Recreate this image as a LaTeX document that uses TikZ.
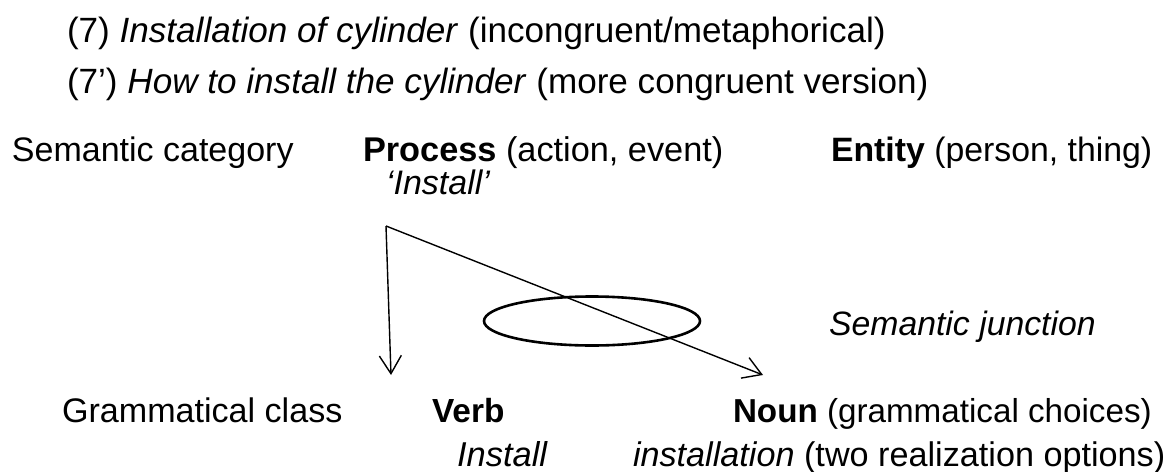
\documentclass[tikz,border=0pt]{standalone}
\usepackage{fontspec}
\setmainfont{Liberation Sans}
\usetikzlibrary{arrows.meta}

\tikzset{
  txt/.style={inner sep=0pt, outer sep=0pt, anchor=base west,
              font=\fontsize{#1}{41}\selectfont},
  txt/.default=34.3,
  conn/.style={line width=1.4pt,
               -{Straight Barb[length=18pt, width=22pt, line width=1.4pt]}},
  junction/.style={line width=2.6pt}
}

\begin{document}
\begin{tikzpicture}[x=1pt, y=-1pt]
  \useasboundingbox (0,0) rectangle (1172,471);

  % example sentences
  \node[txt=35.1] (ex7)  at (67,42) {(7) \textit{Installation of cylinder} (incongruent/metaphorical)};
  \node[txt=35.1] (ex7b) at (67,93) {(7’) \textit{How to install the cylinder} (more congruent version)};

  % semantic level
  \node[txt=34.0] (semcat)  at (12,161)  {Semantic category};
  \node[txt=34.3] (process) at (363,161) {\textbf{Process} (action, event)};
  \node[txt=34.0] (inst1)   at (386,194) {\textit{‘Install’}};
  \node[txt=33.8] (entity)  at (831,161) {\textbf{Entity} (person, thing)};

  % junction
  \node[txt=33.8] (junclbl) at (829,335) {\textit{Semantic junction}};
  \draw[junction] (592,321) ellipse [x radius=108pt, y radius=24.5pt];

  % grammatical level
  \node[txt=34.1] (gramcls) at (62,422)  {Grammatical class};
  \node[txt=33.4] (verb)    at (432,422) {\textbf{Verb}};
  \node[txt=34.5] (inst2)   at (457,466) {\textit{Install}};
  \node[txt=33.2] (noun)    at (733,422) {\textbf{Noun} (grammatical choices)};
  \node[txt=34.2] (instn)   at (633,466) {\textit{installation} (two realization options)};

  % connectors from the process to the two realizations
  \coordinate (split) at (386,226);
  \coordinate (vtip)  at (391,375);
  \coordinate (ntip)  at (763,375);
  \draw[conn] (split) -- (vtip);
  \draw[conn] (split) -- (ntip);
\end{tikzpicture}
\end{document}
